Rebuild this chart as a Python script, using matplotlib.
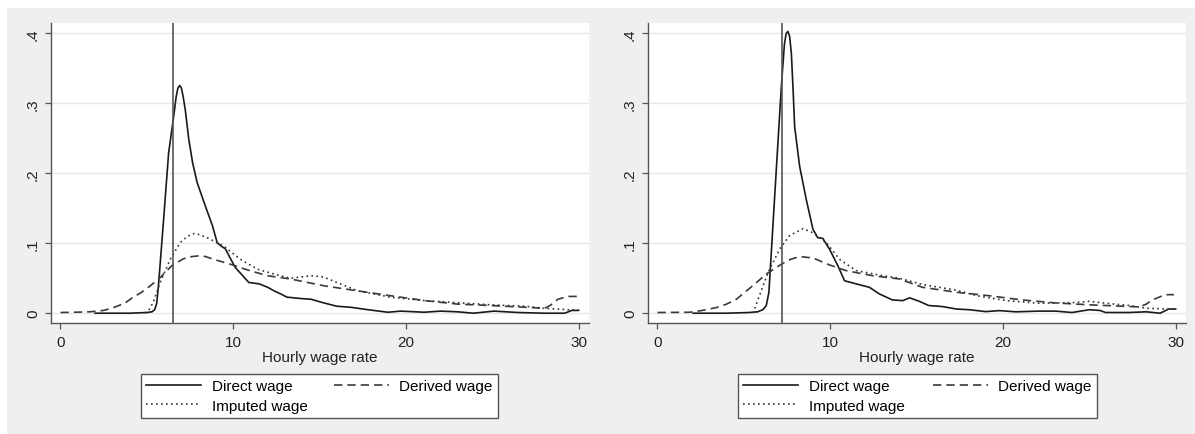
import matplotlib
matplotlib.use("Agg")
import matplotlib.pyplot as plt
from matplotlib.patches import Rectangle

plt.rcParams["font.family"] = ["Liberation Sans", "DejaVu Sans"]
plt.rcParams["font.size"] = 11

# vertical reference lines (minimum wage), one per panel
min_wage = [6.5, 7.2]

# left panel
left_direct_x = [2.0, 3.0, 4.0, 5.0, 5.3, 5.45, 5.57, 5.67, 5.8, 5.97, 6.26, 6.55, 6.7, 6.8,
                 6.9, 7.0, 7.1, 7.23, 7.42, 7.65, 7.91, 8.39, 8.8, 9.07, 9.3, 9.55, 9.8, 10.13,
                 10.5, 10.9, 11.5, 12.0, 12.36, 12.8, 13.1, 13.9, 14.5, 15.2, 16.0, 16.8,
                 17.8, 18.95, 19.7, 21.05, 22.0, 23.0, 23.9, 25.1, 26.5, 28.0, 29.2, 29.6, 30.0]
left_direct_y = [0, 0, 0, 0.001, 0.002, 0.005, 0.014, 0.039, 0.08, 0.134, 0.229, 0.281, 0.31,
                 0.322, 0.3256, 0.322, 0.31, 0.29, 0.25, 0.215, 0.187, 0.153, 0.125, 0.101,
                 0.096, 0.092, 0.080, 0.065, 0.055, 0.044, 0.042, 0.037, 0.032, 0.027, 0.023,
                 0.021, 0.020, 0.015, 0.010, 0.0085, 0.005, 0.0014, 0.003, 0.0014, 0.003,
                 0.002, 0.0, 0.003, 0.001, 0.0, 0.0, 0.004, 0.004]
left_derived_x = [0, 1.0, 1.7, 2.5, 3.06, 3.7, 4.22, 4.7, 5.19, 5.77, 6.45, 7.13, 7.6, 8.0,
                  8.4, 8.87, 9.84, 10.81, 11.98, 13.3, 13.9, 15.3, 17.2, 19.1, 21.1, 23.0,
                  24.9, 26.9, 28.05, 28.4, 28.8, 29.4, 30.0]
left_derived_y = [0.001, 0.0015, 0.002, 0.004, 0.008, 0.014, 0.023, 0.030, 0.039, 0.051, 0.068,
                  0.078, 0.081, 0.082, 0.081, 0.077, 0.070, 0.062, 0.0536, 0.049, 0.046, 0.039,
                  0.032, 0.025, 0.018, 0.013, 0.011, 0.0085, 0.007, 0.012, 0.020, 0.024, 0.024]
left_imputed_x = [4.9, 5.1, 5.38, 5.77, 6.35, 6.93, 7.35, 7.75, 8.1, 8.49, 9.45, 10.42, 11.4,
                  12.36, 13.3, 14.0, 14.5, 15.2, 16.2, 17.2, 19.1, 21.1, 23.0, 24.9, 26.9,
                  28.0, 29.4, 30.0]
left_imputed_y = [0.0, 0.004, 0.016, 0.044, 0.077, 0.101, 0.110, 0.114, 0.112, 0.108, 0.096,
                  0.077, 0.063, 0.056, 0.050, 0.052, 0.0536, 0.052, 0.042, 0.032, 0.023, 0.018,
                  0.015, 0.012, 0.010, 0.007, 0.005, 0.0045]

# right panel
right_direct_x = [2.06, 3.0, 4.0, 5.3, 5.8, 6.1, 6.3, 6.45, 6.59, 6.88, 7.17, 7.35, 7.45, 7.55,
                  7.65, 7.75, 7.85, 7.94, 8.23, 8.61, 9.0, 9.28, 9.57, 9.96, 10.44, 10.83,
                  11.5, 12.27, 12.85, 13.6, 14.2, 14.6, 15.2, 15.7, 16.5, 17.3, 18.05, 19.0,
                  19.8, 20.75, 22.1, 23.06, 24.0, 25.0, 25.6, 25.95, 27.3, 28.3, 29.1, 29.6, 30.0]
right_direct_y = [0, 0, 0, 0.001, 0.002, 0.005, 0.011, 0.03, 0.087, 0.206, 0.324, 0.385,
                  0.400, 0.403, 0.396, 0.372, 0.32, 0.267, 0.210, 0.163, 0.120, 0.108, 0.107,
                  0.0916, 0.068, 0.0464, 0.042, 0.037, 0.0275, 0.019, 0.018, 0.022, 0.0166,
                  0.011, 0.0095, 0.006, 0.005, 0.0023, 0.0037, 0.002, 0.003, 0.003, 0.001,
                  0.005, 0.004, 0.001, 0.001, 0.002, 0.0, 0.006, 0.006]
right_derived_x = [0, 1.87, 2.6, 3.4, 4.0, 4.57, 5.5, 6.3, 7.17, 7.7, 8.23, 9.0, 9.96, 10.9,
                   12.46, 14.0, 15.35, 17.3, 19.2, 21.1, 23.06, 25.0, 26.9, 27.9, 28.3, 28.65,
                   29.4, 29.9]
right_derived_y = [0.001, 0.0014, 0.004, 0.008, 0.013, 0.020, 0.039, 0.056, 0.070, 0.077,
                   0.081, 0.079, 0.069, 0.061, 0.0536, 0.049, 0.037, 0.030, 0.025, 0.019,
                   0.0147, 0.012, 0.010, 0.009, 0.013, 0.019, 0.0265, 0.0265]
right_imputed_x = [5.53, 5.9, 6.4, 7.07, 7.65, 8.42, 9.0, 9.77, 10.54, 11.5, 12.85, 14.0,
                   15.35, 17.3, 18.5, 20.2, 22.1, 24.0, 25.0, 25.95, 27.3, 28.3, 30.0]
right_imputed_y = [0.0, 0.025, 0.058, 0.0916, 0.111, 0.121, 0.115, 0.101, 0.077, 0.061,
                   0.0545, 0.050, 0.041, 0.033, 0.025, 0.018, 0.0143, 0.015, 0.017, 0.0143,
                   0.011, 0.0071, 0.0057]

x_ticks = [0, 10, 20, 30]
y_ticks = [0, 0.1, 0.2, 0.3, 0.4]
y_tick_labels = ["0", ".1", ".2", ".3", ".4"]
labels = ["Direct wage", "Derived wage", "Imputed wage"]

W, H = 1195, 435
AXIS_GREY = "#555555"


def px_box(x0, y0, x1, y1):
    # pixel box (top-left origin) -> figure fraction
    return [x0 / W, (H - y1) / H, (x1 - x0) / W, (y1 - y0) / H]


def draw_panel(fig, box, legend_box, direct, derived, imputed, vline):
    ax = fig.add_axes(px_box(*box))
    ax.set_facecolor("white")
    ax.grid(axis="y", color="#e6e6e6", linewidth=1.0)
    ax.set_axisbelow(True)

    l1, = ax.plot(*direct, color="#1a1a1a", linewidth=1.2, linestyle="-")
    l2, = ax.plot(*derived, color="#3a3a3a", linewidth=1.2, linestyle=(0, (5, 3)))
    l3, = ax.plot(*imputed, color="#333333", linewidth=1.2, linestyle=(0, (1, 2)))
    ax.axvline(vline, color=AXIS_GREY, linewidth=1.2)

    ax.set_xlim(-0.55, 30.6)
    ax.set_ylim(-0.014, 0.415)
    ax.set_xticks(x_ticks)
    ax.set_xticklabels([str(t) for t in x_ticks])
    ax.set_yticks(y_ticks)
    ax.set_yticklabels(y_tick_labels, rotation=90, va="center")
    ax.set_xlabel("Hourly wage rate", labelpad=0.5, color="#222222")

    for side in ("top", "right"):
        ax.spines[side].set_visible(False)
    for side in ("left", "bottom"):
        ax.spines[side].set_color(AXIS_GREY)
        ax.spines[side].set_linewidth(1.0)
    ax.tick_params(axis="both", length=4, width=0.9, color=AXIS_GREY, labelcolor="#222222")
    ax.tick_params(axis="x", pad=5)
    ax.tick_params(axis="y", pad=4)

    # ncol=2 fills column-first
    leg = fig.legend([l1, l3, l2], [labels[0], labels[2], labels[1]], ncol=2,
                     loc="center", mode="expand", bbox_to_anchor=px_box(*legend_box),
                     bbox_transform=fig.transFigure, fancybox=False, framealpha=1,
                     edgecolor=AXIS_GREY, handlelength=3.6, handletextpad=0.7,
                     columnspacing=1.5, borderpad=0.35, labelspacing=0.35,
                     borderaxespad=0)
    leg.get_frame().set_linewidth(1.0)
    return ax


def main():
    fig = plt.figure(figsize=(W / 100, H / 100), dpi=100)
    fig.patch.set_facecolor("white")
    fig.add_artist(Rectangle((7 / W, 0), 1 - 7 / W, (H - 9) / H, transform=fig.transFigure,
                             facecolor="#efefef", edgecolor="none", zorder=-10))

    draw_panel(fig, (51, 24, 589, 324), (141, 372, 498, 422),
               (left_direct_x, left_direct_y), (left_derived_x, left_derived_y),
               (left_imputed_x, left_imputed_y), min_wage[0])
    draw_panel(fig, (648, 24, 1186, 324), (738, 372, 1097, 422),
               (right_direct_x, right_direct_y), (right_derived_x, right_derived_y),
               (right_imputed_x, right_imputed_y), min_wage[1])

    fig.savefig("out.png", dpi=100, facecolor=fig.get_facecolor())


if __name__ == "__main__":
    main()
